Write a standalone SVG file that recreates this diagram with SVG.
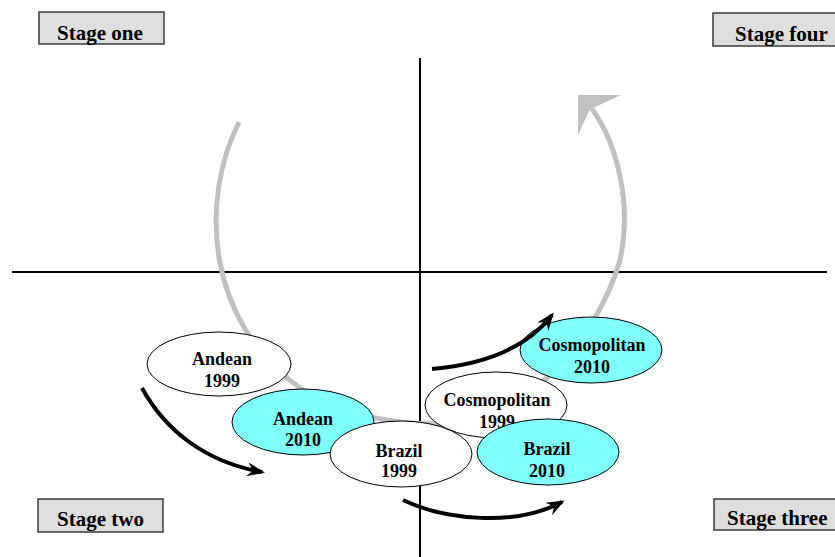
<svg xmlns="http://www.w3.org/2000/svg" width="835" height="557" viewBox="0 0 835 557">
  <style>
    .axis { stroke: #000; stroke-width: 2; fill: none; }
    .cycle { stroke: #c0c0c0; stroke-width: 5; fill: none; }
    .move { stroke: #000; stroke-width: 4; fill: none; marker-end: url(#head); }
    .stage rect { fill: #dedede; stroke: #3a3a3a; stroke-width: 1.5; }
    .stage text { font-family: "Liberation Serif", "Times New Roman", serif; font-weight: bold; font-size: 21px; fill: #000; }
    .node ellipse { stroke: #000; stroke-width: 1; }
    .node text { font-family: "Liberation Serif", "Times New Roman", serif; font-weight: bold; font-size: 18px; fill: #000; text-anchor: middle; }
    .y1999 { fill: #fff; }
    .y2010 { fill: #80ffff; }
  </style>
  <defs>
    <marker id="head" markerUnits="userSpaceOnUse" markerWidth="18" markerHeight="16" viewBox="0 0 18 16" refX="15" refY="8" orient="auto">
      <path d="M0,1 L18,8 L0,15 L6,8 z" fill="#000"/>
    </marker>
  </defs>

  <rect width="835" height="557" fill="#fff"/>

  <!-- quadrant axes -->
  <g id="axes">
    <line class="axis" x1="420" y1="58" x2="420" y2="557"/>
    <line class="axis" x1="12" y1="272" x2="827" y2="272"/>
  </g>

  <!-- stage labels -->
  <g id="stage-one" class="stage">
    <rect x="39" y="12" width="125" height="32"/>
    <text x="57" y="40">Stage one</text>
  </g>
  <g id="stage-four" class="stage">
    <rect x="713" y="13" width="130" height="33"/>
    <text x="735" y="41">Stage four</text>
  </g>
  <g id="stage-two" class="stage">
    <rect x="38" y="499" width="125" height="33"/>
    <text x="57" y="526">Stage two</text>
  </g>
  <g id="stage-three" class="stage">
    <rect x="714" y="499" width="130" height="31"/>
    <text x="727" y="525">Stage three</text>
  </g>

  <!-- grey lifecycle arc -->
  <g id="cycle">
    <path class="cycle" d="M239,122 C200,200 205,320 300,388 C350,420 420,430 470,420 C540,405 600,330 620,260 C632,205 618,145 592,109"/>
    <polygon points="578,95 621,95 593,108 589,111 578,135" fill="#c0c0c0"/>
  </g>

  <!-- country nodes -->
  <g id="andean-1999" class="node">
    <ellipse class="y1999" cx="219" cy="364" rx="72" ry="32"/>
    <text x="222" y="365">Andean</text>
    <text x="222" y="387">1999</text>
  </g>
  <g id="andean-2010" class="node">
    <ellipse class="y2010" cx="303" cy="422" rx="71" ry="33"/>
    <text x="303" y="425">Andean</text>
    <text x="303" y="446">2010</text>
  </g>
  <g id="cosmopolitan-2010" class="node">
    <ellipse class="y2010" cx="591" cy="350" rx="71" ry="33"/>
    <text x="592" y="351">Cosmopolitan</text>
    <text x="592" y="373">2010</text>
  </g>
  <g id="cosmopolitan-1999" class="node">
    <ellipse class="y1999" cx="496" cy="405" rx="71" ry="33"/>
    <text x="497" y="406">Cosmopolitan</text>
    <text x="497" y="428">1999</text>
  </g>
  <g id="brazil-1999" class="node">
    <ellipse class="y1999" cx="401" cy="454" rx="71" ry="33"/>
    <text x="399" y="457">Brazil</text>
    <text x="399" y="477">1999</text>
  </g>
  <g id="brazil-2010" class="node">
    <ellipse class="y2010" cx="548" cy="452" rx="71" ry="33"/>
    <text x="547" y="455">Brazil</text>
    <text x="547" y="477">2010</text>
  </g>

  <!-- movement arrows -->
  <g id="connectors">
    <path class="move" d="M142,388 C165,430 205,462 262,472"/>
    <path class="move" d="M403,500 C445,520 515,527 562,502"/>
    <path class="move" d="M432,369 C480,365 525,350 552,315"/>
  </g>
</svg>
